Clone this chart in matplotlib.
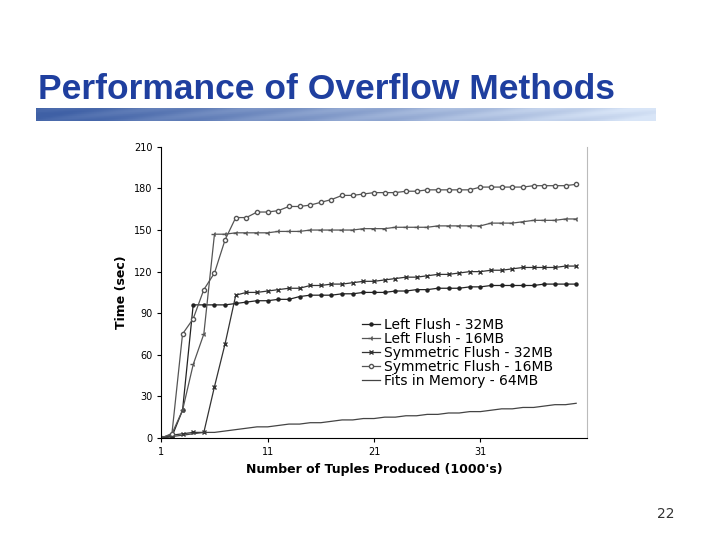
import matplotlib
matplotlib.use("Agg")
import matplotlib.pyplot as plt
import numpy as np

x = list(range(1, 41))
left32 = [0, 1, 20, 96, 96, 96, 96, 97, 98, 99, 99, 100, 100, 102, 103, 103, 103, 104, 104, 105,
          105, 105, 106, 106, 107, 107, 108, 108, 108, 109, 109, 110, 110, 110, 110, 110, 111, 111, 111, 111]
left16 = [0, 3, 20, 53, 75, 147, 147, 148, 148, 148, 148, 149, 149, 149, 150, 150, 150, 150, 150, 151,
          151, 151, 152, 152, 152, 152, 153, 153, 153, 153, 153, 155, 155, 155, 156, 157, 157, 157, 158, 158]
sym32 = [0, 2, 3, 4, 4, 37, 68, 103, 105, 105, 106, 107, 108, 108, 110, 110, 111, 111, 112, 113,
         113, 114, 115, 116, 116, 117, 118, 118, 119, 120, 120, 121, 121, 122, 123, 123, 123, 123, 124, 124]
sym16 = [0, 3, 75, 86, 107, 119, 143, 159, 159, 163, 163, 164, 167, 167, 168, 170, 172, 175, 175, 176,
         177, 177, 177, 178, 178, 179, 179, 179, 179, 179, 181, 181, 181, 181, 181, 182, 182, 182, 182, 183]
fits64 = [0, 1, 2, 3, 4, 4, 5, 6, 7, 8, 8, 9, 10, 10, 11, 11, 12, 13, 13, 14,
          14, 15, 15, 16, 16, 17, 17, 18, 18, 19, 19, 20, 21, 21, 22, 22, 23, 24, 24, 25]
labels = ["Left Flush - 32MB", "Left Flush - 16MB", "Symmetric Flush - 32MB",
          "Symmetric Flush - 16MB", "Fits in Memory - 64MB"]

fig = plt.figure(figsize=(7.2, 5.4), dpi=100)
fig.patch.set_facecolor("white")

fig.text(0.053, 0.817, "Performance of Overflow Methods", fontsize=25.5, fontweight="bold",
         color="#1f3f9f", family="Liberation Sans")
bar = fig.add_axes([0.05, 0.775, 0.86, 0.025])
grad = np.linspace(0, 1, 256)
img = np.zeros((8, 256, 3))
c1 = np.array([0.25, 0.38, 0.65]); c2 = np.array([0.85, 0.90, 0.97])
for i in range(8):
    t = np.clip(grad + 0.05 * np.sin(grad * 40 + i), 0, 1)[:, None]
    img[i] = c1 * (1 - t) + c2 * t
bar.imshow(img, aspect="auto")
bar.axis("off")

fig.text(0.913, 0.04, "22", fontsize=10, color="#333333")

ax = fig.add_axes([0.224, 0.189, 0.591, 0.539])
ax.plot(x, left32, marker="o", markersize=2.2, color="#222222", lw=0.9, label=labels[0])
ax.plot(x, left16, marker="3", markersize=4, color="#555555", lw=0.9, label=labels[1])
ax.plot(x, sym32, marker="x", markersize=3, color="#333333", lw=0.9, label=labels[2])
ax.plot(x, sym16, marker="o", markersize=3, mfc="white", color="#555555", lw=0.9, label=labels[3])
ax.plot(x, fits64, color="#444444", lw=0.9, label=labels[4])

ax.set_xlim(1, 41)
ax.set_ylim(0, 210)
ax.set_yticks(range(0, 211, 30))
ax.set_xticks([1, 11, 21, 31])
ax.tick_params(labelsize=7, length=3)
ax.spines["top"].set_visible(False)
ax.spines["right"].set_color("#bbbbbb")
ax.set_ylabel("Time (sec)", fontsize=9, fontweight="bold")
ax.set_xlabel("Number of Tuples Produced (1000's)", fontsize=9, fontweight="bold")
ax.legend(loc="lower right", bbox_to_anchor=(0.95, 0.13), frameon=False, fontsize=10,
          handlelength=1.3, handletextpad=0.3, labelspacing=0.0)

fig.savefig("out.png", dpi=100)
